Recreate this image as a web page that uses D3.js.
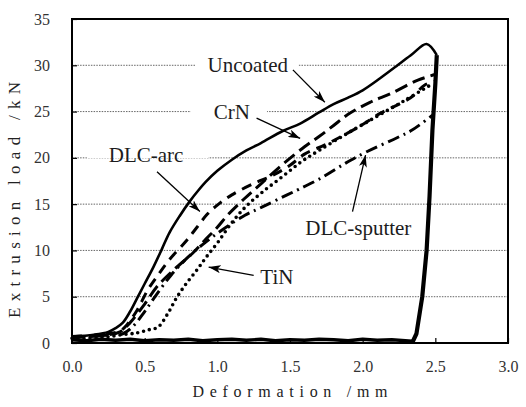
<!DOCTYPE html>
<html>
<head>
<meta charset="utf-8">
<script src="https://cdn.jsdelivr.net/npm/d3@7"></script>
<style>
  html, body { margin: 0; padding: 0; background: #fff; }
  svg { display: block; }
  svg text { font-family: "Liberation Serif", LiberationSerif, Tinos, "Times New Roman", Times, "Nimbus Roman", "Nimbus Roman No9 L", FreeSerif, "Noto Serif", "DejaVu Serif", serif; }
</style>
</head>
<body>
<svg id="chart" width="526" height="407"></svg>
<script>
// Extrusion load (kN) against punch deformation (mm), loading branch of each tool coating
const uncoated = [[0,0.7],[0.15,0.9],[0.25,1.2],[0.3,1.6],[0.35,2.2],[0.4,3.4],[0.45,4.9],[0.5,6.4],[0.56,8.2],[0.62,10.2],[0.67,11.9],[0.74,13.7],[0.81,15.3],[0.87,16.5],[0.92,17.4],[1.0,18.6],[1.1,19.8],[1.2,20.8],[1.3,21.6],[1.45,22.9],[1.57,23.7],[1.7,24.9],[1.8,25.8],[1.9,26.5],[2.0,27.3],[2.12,28.6],[2.24,30.0],[2.34,31.2],[2.44,32.3],[2.51,31.1]];
const crn = [[0,0.6],[0.2,0.8],[0.33,1.2],[0.4,2.2],[0.5,4.2],[0.58,6.0],[0.7,7.9],[0.83,9.7],[0.92,11.2],[1.0,12.5],[1.07,13.8],[1.18,15.5],[1.3,17.2],[1.45,19.3],[1.6,21.2],[1.7,22.3],[1.8,23.5],[1.9,24.7],[2.05,26.0],[2.2,27.0],[2.38,28.4],[2.5,29.0]];
const dlcArc = [[0,0.7],[0.2,0.9],[0.33,1.3],[0.38,2.0],[0.45,3.6],[0.52,5.7],[0.59,7.3],[0.67,9.0],[0.79,11.1],[0.86,12.5],[0.93,13.9],[1.0,14.9],[1.1,16.0],[1.26,17.3],[1.38,18.1],[1.5,19.2],[1.6,20.4],[1.74,21.4],[1.84,22.2],[2.0,23.6],[2.12,24.8],[2.33,26.5],[2.43,27.9],[2.5,28.3]];
const dlcSputter = [[0,0.6],[0.2,0.8],[0.35,1.0],[0.42,1.8],[0.5,3.4],[0.58,5.2],[0.68,7.3],[0.8,9.3],[0.92,10.9],[1.05,12.4],[1.19,13.8],[1.31,14.7],[1.48,16.0],[1.56,16.6],[1.7,17.7],[1.88,19.4],[2.02,20.6],[2.24,22.2],[2.34,23.0],[2.48,24.6]];
const tin = [[0,0.5],[0.2,0.6],[0.35,0.9],[0.45,1.1],[0.52,1.4],[0.59,1.7],[0.66,3.2],[0.72,4.9],[0.79,6.5],[0.86,7.9],[0.92,9.2],[1.0,10.8],[1.1,13.0],[1.2,14.8],[1.31,16.3],[1.45,18.0],[1.58,19.6],[1.7,20.8],[1.89,22.6],[2.1,24.5],[2.3,26.3],[2.47,27.9]];
// common unloading branch and the return trace along zero load
const unload = [[2.51,31.1],[2.5,28],[2.48,23],[2.46,15.8],[2.44,10],[2.41,5],[2.37,1],[2.34,0]];
const returnTrace = [[0,0.35],[0.1,0.25],[0.2,0.4],[0.3,0.3],[0.4,0.4],[0.5,0.25],[0.6,0.35],[0.7,0.3],[0.8,0.4],[0.9,0.25],[1.0,0.35],[1.1,0.4],[1.2,0.3],[1.3,0.4],[1.4,0.25],[1.5,0.35],[1.6,0.3],[1.7,0.4],[1.8,0.35],[1.9,0.25],[2.0,0.4],[2.1,0.3],[2.2,0.35],[2.34,0.2]];

const xTicks = [0, 0.5, 1.0, 1.5, 2.0, 2.5, 3.0];
const xTickLabels = ["0.0", "0.5", "1.0", "1.5", "2.0", "2.5", "3.0"];
const yTicks = [0, 5, 10, 15, 20, 25, 30, 35];
const yTickLabels = ["0", "5", "10", "15", "20", "25", "30", "35"];

const seriesNames = ["Uncoated", "CrN", "DLC-arc", "DLC-sputter", "TiN"];
const seriesData = [uncoated, crn, dlcArc, dlcSputter, tin];

// label anchor and arrow (from -> to), in data units
const labelAt = [[1.21, 30.0], [1.10, 25.0], [0.51, 20.3], [1.97, 12.4], [1.41, 7.1]];
const arrowFrom = [[1.52, 29.5], [1.27, 24.3], [0.585, 18.5], [1.93, 14.2], [1.25, 7.3]];
const arrowTo = [[1.74, 26.0], [1.57, 22.1], [0.88, 14.2], [2.02, 20.3], [0.94, 8.2]];

// ---- layout ----
const W = 526, H = 407;
const m = { left: 72, right: 18, top: 19, bottom: 64 };
const svg = d3.select("#chart");
const x = d3.scaleLinear().domain([0, 3]).range([m.left, W - m.right]);
const y = d3.scaleLinear().domain([0, 35]).range([H - m.bottom, m.top]);

const styles = [
  { dash: null, width: 2.6, cap: "butt" },
  { dash: "13,6", width: 3, cap: "butt" },
  { dash: "10,7", width: 3, cap: "butt" },
  { dash: "12,5,2,5", width: 3, cap: "butt" },
  { dash: "0,6", width: 3.6, cap: "round" }
];
const gapPad = [[12, 10], [23, 17], [22, 25], null, null];

// horizontal dotted grid
svg.append("g").selectAll("line")
  .data(yTicks.filter(v => v > 0 && v < 35))
  .join("line")
  .attr("x1", x(0)).attr("x2", x(3))
  .attr("y1", d => y(d)).attr("y2", d => y(d))
  .attr("stroke", "#666").attr("stroke-width", 1)
  .attr("stroke-dasharray", "1.5,1.2");

// axes (inward ticks, serif labels)
const xAxis = svg.append("g")
  .attr("transform", `translate(0,${y(0)})`)
  .call(d3.axisBottom(x).tickValues(xTicks).tickFormat((d, i) => xTickLabels[i])
    .tickSizeInner(-5).tickSizeOuter(0).tickPadding(18));
const yAxis = svg.append("g")
  .attr("transform", `translate(${x(0)},0)`)
  .call(d3.axisLeft(y).tickValues(yTicks).tickFormat((d, i) => yTickLabels[i])
    .tickSizeInner(-5).tickSizeOuter(0).tickPadding(22));
[xAxis, yAxis].forEach(g => {
  g.attr("font-family", null);
  g.select(".domain").remove();
  g.selectAll("line").attr("stroke", "#000").attr("stroke-width", 1.2);
  g.selectAll("text").attr("font-size", 16).attr("fill", "#333");
});

// labels first measured so their white backing can break the grid
const labelG = svg.append("g");
const labels = labelG.selectAll("text")
  .data(seriesNames)
  .join("text")
  .attr("x", (d, i) => x(labelAt[i][0]))
  .attr("y", (d, i) => y(labelAt[i][1]))
  .attr("text-anchor", "middle")
  .attr("dominant-baseline", "central")
  .attr("font-size", 21)
  .attr("fill", "#1c1c1c")
  .text(d => d);

const backing = svg.insert("g", () => labelG.node());
labels.each(function (d, i) {
  if (!gapPad[i]) return;
  const b = this.getBBox();
  backing.append("rect")
    .attr("x", b.x - gapPad[i][0]).attr("y", y(labelAt[i][1]) - 3)
    .attr("width", b.width + gapPad[i][0] + gapPad[i][1]).attr("height", 6)
    .attr("fill", "#fff");
});

// curves
const curveG = svg.insert("g", () => labelG.node());
const smooth = d3.line().x(d => x(d[0])).y(d => y(d[1])).curve(d3.curveCatmullRom.alpha(0.5));
const straight = d3.line().x(d => x(d[0])).y(d => y(d[1]));

curveG.append("path").datum(returnTrace)
  .attr("d", straight).attr("fill", "none")
  .attr("stroke", "#000").attr("stroke-width", 3.4).attr("stroke-linejoin", "round");

seriesData.forEach((data, i) => {
  const st = styles[i];
  curveG.append("path").datum(data)
    .attr("d", smooth).attr("fill", "none")
    .attr("stroke", "#000").attr("stroke-width", st.width)
    .attr("stroke-linecap", st.cap).attr("stroke-linejoin", "round")
    .attr("stroke-dasharray", st.dash);
});

curveG.append("path").datum(unload)
  .attr("d", straight).attr("fill", "none")
  .attr("stroke", "#000").attr("stroke-width", 4.2).attr("stroke-linejoin", "round");

// arrows from labels to curves
svg.append("defs").append("marker")
  .attr("id", "head").attr("viewBox", "0 0 12 8")
  .attr("refX", 12).attr("refY", 4)
  .attr("markerWidth", 12).attr("markerHeight", 8)
  .attr("markerUnits", "userSpaceOnUse").attr("orient", "auto")
  .append("path").attr("d", "M0,0 L12,4 L0,8 L3,4 Z").attr("fill", "#000");

svg.append("g").selectAll("line")
  .data(seriesNames)
  .join("line")
  .attr("x1", (d, i) => x(arrowFrom[i][0])).attr("y1", (d, i) => y(arrowFrom[i][1]))
  .attr("x2", (d, i) => x(arrowTo[i][0])).attr("y2", (d, i) => y(arrowTo[i][1]))
  .attr("stroke", "#000").attr("stroke-width", 1.3)
  .attr("marker-end", "url(#head)");

// frame
svg.append("rect")
  .attr("x", x(0)).attr("y", y(35))
  .attr("width", x(3) - x(0)).attr("height", y(0) - y(35))
  .attr("fill", "none").attr("stroke", "#000").attr("stroke-width", 2);

// axis titles
svg.append("text")
  .attr("x", (x(0) + x(3)) / 2).attr("y", 397)
  .attr("text-anchor", "middle")
  .attr("font-size", 16).attr("fill", "#222")
  .attr("textLength", 195).attr("lengthAdjust", "spacing")
  .text("Deformation /mm");

svg.append("text")
  .attr("transform", `translate(20,200) rotate(-90)`)
  .attr("text-anchor", "middle")
  .attr("font-size", 17).attr("fill", "#222")
  .attr("textLength", 236).attr("lengthAdjust", "spacing")
  .text("Extrusion load /kN");
</script>
</body>
</html>
